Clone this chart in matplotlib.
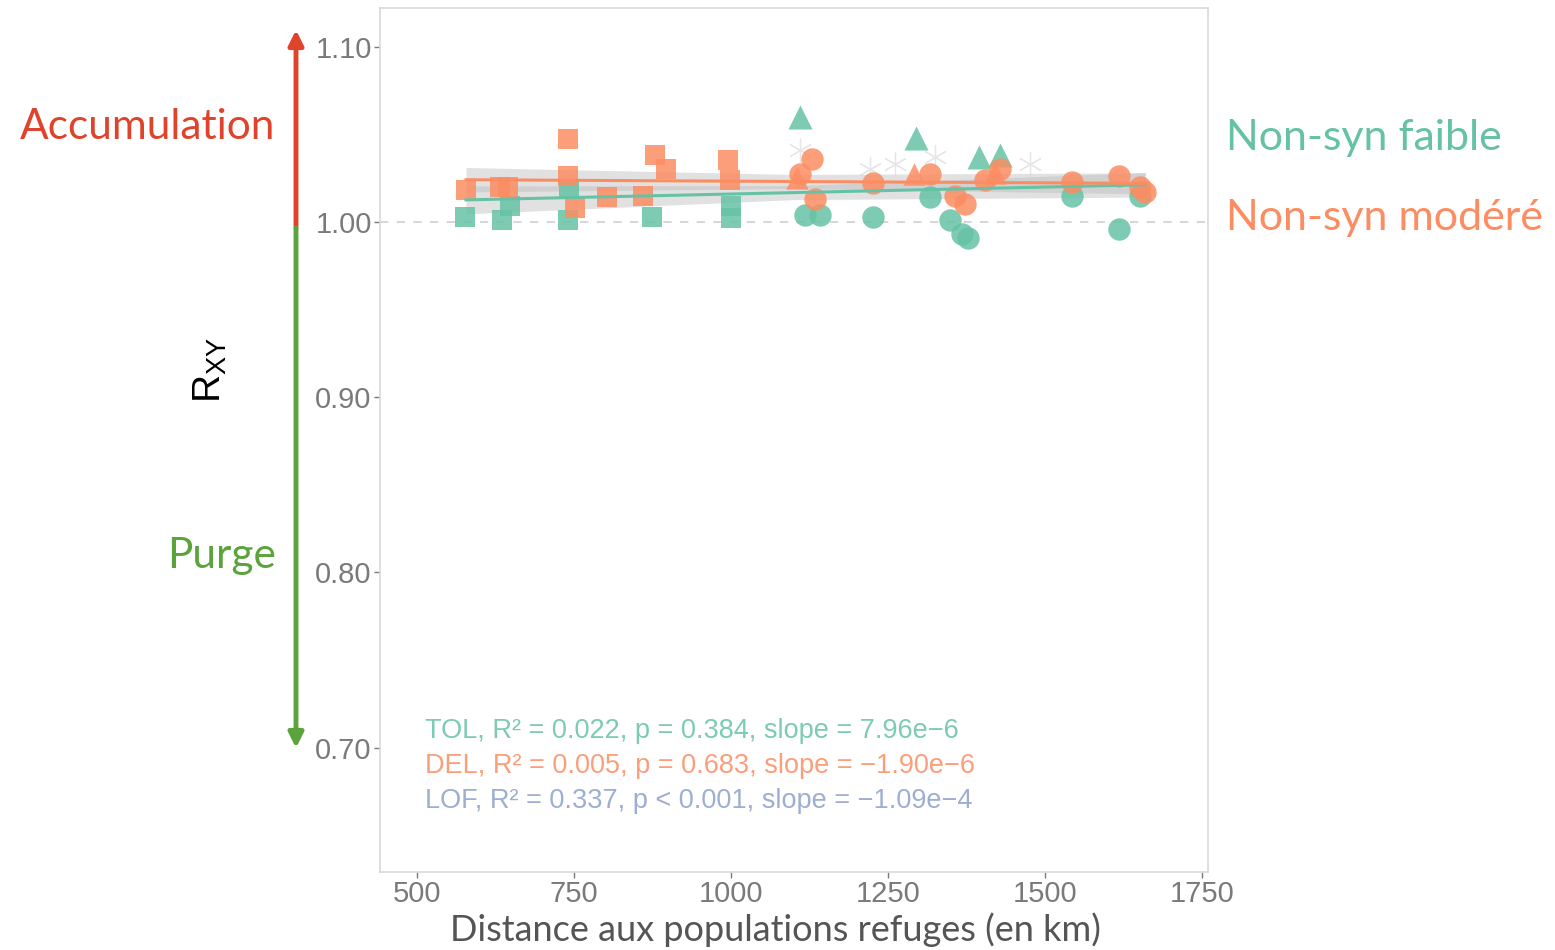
import numpy as np
import matplotlib.pyplot as plt

plt.rcParams['font.family'] = ['Liberation Sans', 'DejaVu Sans']

GREEN = '#66c2a5'
ORANGE = '#fc8d62'
PURPLE = '#8da0cb'

# Non-syn faible (TOL) - squares, circles, triangles
tol_sq_x = [576, 635, 648, 740, 742, 874, 1000, 1000]
tol_sq_y = [1.003, 1.001, 1.009, 1.001, 1.019, 1.003, 1.009, 1.002]
tol_ci_x = [1118, 1142, 1226, 1317, 1349, 1368, 1378, 1543, 1619, 1651]
tol_ci_y = [1.004, 1.004, 1.003, 1.014, 1.001, 0.993, 0.991, 1.015, 0.996, 1.015]
tol_tr_x = [1110, 1295, 1396, 1428]
tol_tr_y = [1.060, 1.048, 1.037, 1.038]

# Non-syn modéré (DEL)
del_sq_x = [578, 632, 645, 740, 740, 751, 802, 860, 879, 896, 995, 998]
del_sq_y = [1.018, 1.020, 1.020, 1.047, 1.026, 1.008, 1.014, 1.015, 1.038, 1.030, 1.035, 1.024]
del_ci_x = [1110, 1129, 1134, 1226, 1317, 1357, 1373, 1405, 1429, 1543, 1619, 1651, 1660]
del_ci_y = [1.027, 1.036, 1.013, 1.022, 1.027, 1.015, 1.010, 1.024, 1.030, 1.023, 1.026, 1.020, 1.017]
del_tr_x = [1105, 1292, 1420]
del_tr_y = [1.025, 1.027, 1.028]

# LOF (faded asterisks)
lof_x = [1110, 1221, 1261, 1325, 1476]
lof_y = [1.041, 1.030, 1.033, 1.037, 1.033]

# regression fits
fit_x = [578, 1660]
tol_int, tol_slope = 1.0079, 7.96e-6
del_int, del_slope = 1.0251, -1.90e-6
band_x = [578, 1100, 1660]
tol_half = [0.008, 0.004, 0.007]
del_half = [0.007, 0.004, 0.006]

fig = plt.figure(figsize=(15.55, 9.5), dpi=100)
ax = fig.add_axes([380/1555, 1-872/950, 828/1555, 864/950])

bx = np.array(band_x)
ax.fill_between(bx, tol_int + tol_slope*bx - tol_half, tol_int + tol_slope*bx + tol_half,
                color='#bdbdbd', alpha=0.45, lw=0, zorder=1)
ax.fill_between(bx, del_int + del_slope*bx - del_half, del_int + del_slope*bx + del_half,
                color='#bdbdbd', alpha=0.45, lw=0, zorder=1)

ax.axhline(1.0, color='#d0d0d0', ls=(0, (5, 5)), lw=1.2, zorder=0)

ax.scatter(tol_sq_x, tol_sq_y, marker='s', s=190, c=GREEN, alpha=0.85, lw=0, zorder=3)
ax.scatter(tol_ci_x, tol_ci_y, marker='o', s=260, c=GREEN, alpha=0.85, lw=0, zorder=3)
ax.scatter(tol_tr_x, tol_tr_y, marker='^', s=300, c=GREEN, alpha=0.85, lw=0, zorder=3)
ax.scatter(del_sq_x, del_sq_y, marker='s', s=190, c=ORANGE, alpha=0.85, lw=0, zorder=4)
ax.scatter(del_ci_x, del_ci_y, marker='o', s=260, c=ORANGE, alpha=0.85, lw=0, zorder=4)
ax.scatter(del_tr_x, del_tr_y, marker='^', s=260, c=ORANGE, alpha=0.85, lw=0, zorder=4)
ax.scatter(lof_x, lof_y, marker=(6, 2, 0), s=280, c='#d6d6d6', alpha=0.6, lw=0.9, zorder=2)

fx = np.array(fit_x)
ax.plot(fx, tol_int + tol_slope*fx, color=GREEN, lw=2.2, zorder=5)
ax.plot(fx, del_int + del_slope*fx, color=ORANGE, lw=2.2, zorder=5)

ax.set_xlim(441, 1760)
ax.set_ylim(0.629, 1.122)
ax.set_xticks([500, 750, 1000, 1250, 1500, 1750])
ax.set_yticks([0.70, 0.80, 0.90, 1.00, 1.10])
ax.set_yticklabels(['0.70', '0.80', '0.90', '1.00', '1.10'])
ax.tick_params(labelsize=21, colors='#7a7a7a', length=4, width=1, pad=2)
for s in ax.spines.values():
    s.set_color('#d9d9d9')
    s.set_linewidth(1.2)

fig.text(775/1555, 1-930/950, 'Distance aux populations refuges (en km)', fontsize=26,
         color='#555555', family=['Lato', 'DejaVu Sans'], ha='center', va='center')

stats = ['TOL, R\u00b2 = 0.022, p = 0.384, slope = 7.96e\u22126',
         'DEL, R\u00b2 = 0.005, p = 0.683, slope = \u22121.90e\u22126',
         'LOF, R\u00b2 = 0.337, p < 0.001, slope = \u22121.09e\u22124']
for i, (t, c) in enumerate(zip(stats, [GREEN, ORANGE, PURPLE])):
    ax.text(425/1555, 1-(731+35*i)/950, t, transform=fig.transFigure, fontsize=19.5,
            color=c, alpha=0.85, va='center', ha='left')

fig.text(210/1555, 1-370/950, r'R$_{\mathregular{XY}}$', rotation=90, fontsize=28,
         ha='center', va='center', color='black')

# arrows on the left
ax_x = 296/1555
ax.annotate('', xy=(ax_x, 1-30/950), xytext=(ax_x, 1-228/950), xycoords='figure fraction',
            arrowprops=dict(arrowstyle='-|>', lw=3.5, color='#e0432b', mutation_scale=22,
                            shrinkA=0, shrinkB=0))
ax.annotate('', xy=(ax_x, 1-748/950), xytext=(ax_x, 1-228/950), xycoords='figure fraction',
            arrowprops=dict(arrowstyle='-|>', lw=3.5, color='#5ba33d', mutation_scale=22,
                            shrinkA=0, shrinkB=0))

fig.text(148/1555, 1-127/950, 'Accumulation', color='#e0432b', fontsize=30.5,
         family=['Lato', 'DejaVu Sans'], ha='center', va='center')
fig.text(222/1555, 1-556/950, 'Purge', color='#5ba33d', fontsize=30.5,
         family=['Lato', 'DejaVu Sans'], ha='center', va='center')

fig.text(1226/1555, 1-138/950, 'Non-syn faible', color=GREEN, fontsize=31,
         family=['Lato', 'DejaVu Sans'], ha='left', va='center')
fig.text(1226/1555, 1-218/950, 'Non-syn modéré', color=ORANGE, fontsize=31,
         family=['Lato', 'DejaVu Sans'], ha='left', va='center')

fig.savefig('out.png', dpi=100)
